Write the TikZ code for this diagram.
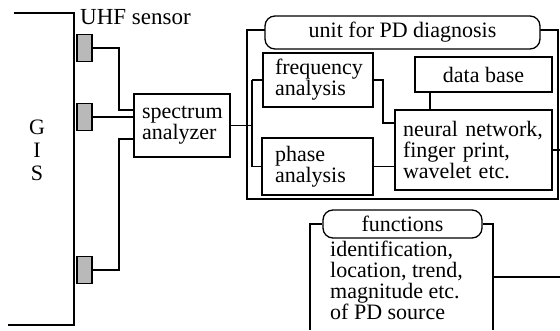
\documentclass[tikz,border=0pt]{standalone}
\usepackage{fontspec}
\setmainfont{Liberation Serif}
\begin{document}
\begin{tikzpicture}[x=1pt,y=-1pt,
  ln/.style={line width=1.3pt},
  bx/.style={draw, line width=1.5pt, rectangle, inner sep=0pt, font=\fontsize{22}{21}\selectfont},
  hdr/.style={draw, line width=1.3pt, rectangle, rounded corners=10pt, fill=white, inner sep=0pt, font=\fontsize{22}{21}\selectfont},
  sens/.style={draw, line width=1.6pt, rectangle, fill=gray!55, inner sep=0pt, minimum width=15pt, minimum height=27pt},
  txt/.style={inner sep=0pt, align=left, font=\fontsize{22}{21}\selectfont},
  lbl/.style={inner sep=0pt, font=\fontsize{22}{22}\selectfont}]
\useasboundingbox (0,0) rectangle (560,330);
% GIS
\draw[ln] (14,13) -- (74,13) -- (74,325) -- (8,325);
\node[lbl] (g) at (37,127) {G};
\node[lbl] (i) at (37,150) {I};
\node[lbl] (s) at (37,173) {S};
\node[lbl, anchor=west, font=\fontsize{23}{23}\selectfont] (uhf) at (80,17) {UHF sensor};
% sensors
\node[sens] (s1) at (84.5,48) {};
\node[sens] (s2) at (84.5,117) {};
\node[sens] (s3) at (84.5,270) {};
% analyzer
\node[bx, minimum width=96pt, minimum height=63pt, text width=80pt, align=left] (an) at (182,125.5) {spectrum\\analyzer};
\coordinate (j1) at (119,110);
\coordinate (j3) at (119,139);
\draw[ln] (s1.east) -| (j1) -- (j1 -| an.west);
\draw[ln] (s2.east) -- (s2.east -| an.west);
\draw[ln] (s3.east) -| (j3) -- (j3 -| an.west);
% unit
\node[draw, line width=1.5pt, rectangle, inner sep=0pt, minimum width=311pt, minimum height=169pt] (unit) at (402.5,114.5) {};
\node[hdr, minimum width=275pt, minimum height=33pt] (uh) at (402.5,32.5) {unit for PD diagnosis};
\node[bx, minimum width=110pt, minimum height=54pt, text width=86pt, align=left] (fr) at (318,80) {frequency\\analysis};
\node[bx, minimum width=111pt, minimum height=57pt, text width=85pt, align=left] (ph) at (317.5,166.5) {phase\\analysis};
\node[bx, minimum width=137pt, minimum height=35pt] (db) at (483.5,74.5) {data base};
\node[bx, minimum width=157pt, minimum height=80pt, text width=141pt, align=left] (nn) at (473.5,150) {neural network,\\finger print,\\wavelet etc.};
\coordinate (bus) at (252,0);
\draw[ln] (fr.west -| bus) -- (ph.west -| bus);
\draw[ln] (fr.west) -- (fr.west -| bus);
\draw[ln] (ph.west) -- (ph.west -| bus);
\draw[ln] (an.east) -- (an.east -| bus);
\coordinate (k) at (383,123);
\draw[ln] (fr.east) -| (k) -- (k -| nn.west);
\draw[ln] (ph.east) -- (ph.east -| nn.west);
\coordinate (d) at (430,0);
\draw[ln] (db.south -| d) -- (nn.north -| d);
\coordinate (re) at (560,0);
\draw[ln] (nn.east) -- (nn.east -| re);
% functions
\node[hdr, minimum width=159pt, minimum height=28pt] (fh) at (402.5,224) {functions};
\node[txt, anchor=north west] (ft) at (330,241) {identification,\\location, trend,\\magnitude etc.\\of PD source};
\coordinate (fl) at (310,330);
\coordinate (fr2) at (493,330);
\coordinate (fo) at (560,277);
\draw[ln] (fh.west) -| (fl);
\draw[ln] (fh.east) -| (fr2);
\draw[ln] (fo -| fr2) -- (fo);
\end{tikzpicture}
\end{document}
